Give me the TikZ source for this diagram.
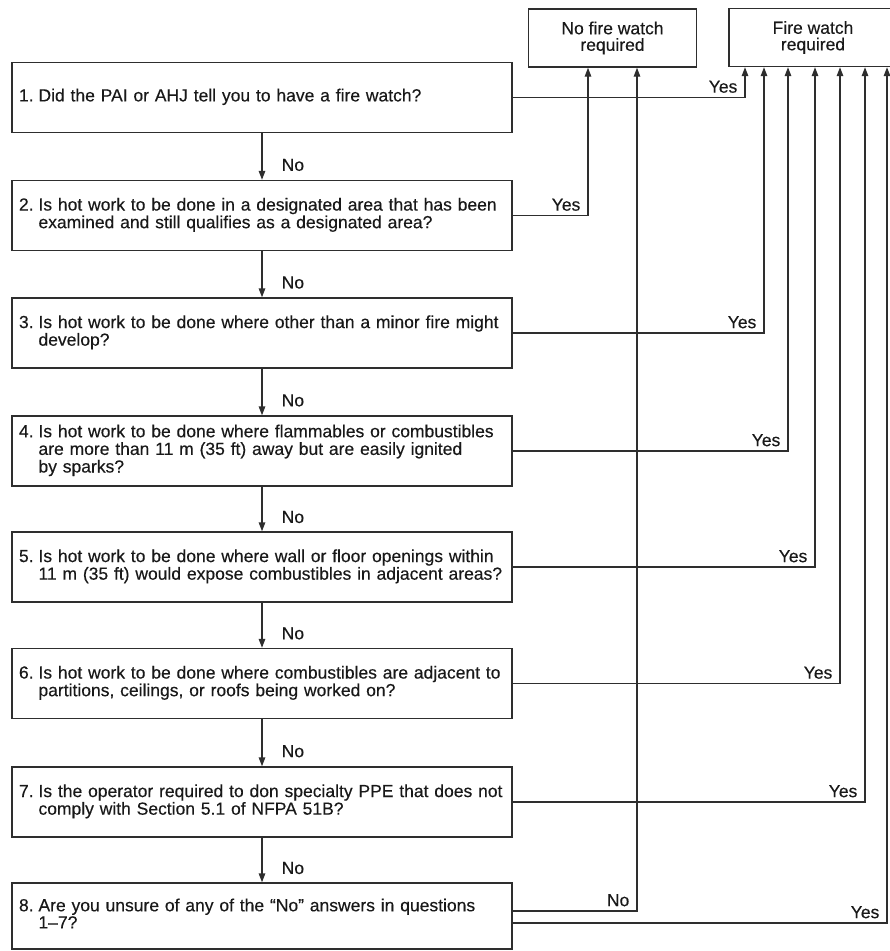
\documentclass[tikz,border=0pt]{standalone}
\usepackage{fontspec}
\setmainfont{Liberation Sans}[UprightFeatures={FakeBold=0.3}]
\usetikzlibrary{arrows.meta,calc}

\definecolor{linec}{gray}{0.18}
\definecolor{txtc}{gray}{0.1}
\newcommand\qfont{\fontsize{17.5}{16.5}\selectfont}
% question text: number, then lines with a hanging indent (use \\ & to break)
\newcommand\qrows[2]{\begin{tabular}{@{}l@{}l@{}}#1.\kern0.28em & #2\end{tabular}}

\begin{document}
\begin{tikzpicture}[x=1pt,y=-1pt,
  ln/.style={draw=linec, line width=1.4pt},
  arr/.style={ln, -{Triangle[width=6.5pt,length=9pt]}},
  qbox/.style={draw=linec, line width=1.4pt, rectangle, minimum width=500pt,
    minimum height=70pt, text width=486pt, inner xsep=7pt, inner ysep=0pt,
    align=left, font=\qfont, text=txtc},
  endbox/.style={draw=linec, line width=1.4pt, rectangle, minimum width=168pt,
    minimum height=58pt, inner sep=0pt, align=center, font=\qfont, text=txtc},
  lbl/.style={font=\qfont, text=txtc, inner sep=2pt},
  yeslbl/.style={lbl, pos=0.5, anchor=south east, xshift=-5pt, yshift=2pt},
  nolbl/.style={lbl, pos=0.68, anchor=west, xshift=17pt}
]
\useasboundingbox (0,0) rectangle (890,951);
\fill[white] (0,0) rectangle (890,951);
\clip (0,0) rectangle (890,951);

% outcomes
\node[endbox] (nofw) at (612.5,38) {No fire watch\\required};
\node[endbox] (fw) at (813,37.5) {Fire watch\\required};

% questions
\node[qbox] (q1) at (262,97.5) {\qrows{1}{Did the PAI or AHJ tell you to have a fire watch?}};
\node[qbox] (q2) at (262,215.5) {\qrows{2}{Is hot work to be done in a designated area that has been\\ & examined and still qualifies as a designated area?}};
\node[qbox] (q3) at (262,333) {\qrows{3}{Is hot work to be done where other than a minor fire might\\ & develop?}};
\node[qbox] (q4) at (262,451) {\qrows{4}{Is hot work to be done where flammables or combustibles\\ & are more than 11 m (35 ft) away but are easily ignited\\ & by sparks?}};
\node[qbox] (q5) at (262,567) {\qrows{5}{Is hot work to be done where wall or floor openings within\\ & 11 m (35 ft) would expose combustibles in adjacent areas?}};
\node[qbox] (q6) at (262,683.5) {\qrows{6}{Is hot work to be done where combustibles are adjacent to\\ & partitions, ceilings, or roofs being worked on?}};
\node[qbox] (q7) at (262,802) {\qrows{7}{Is the operator required to don specialty PPE that does not\\ & comply with Section 5.1 of NFPA 51B?}};
\node[qbox, minimum height=66pt] (q8) at (262,916) {\qrows{8}{Are you unsure of any of the \textquotedblleft No\textquotedblright\ answers in questions\\ & 1\textendash 7?}};

% columns where the answer lines rise into the outcome boxes
\coordinate (xa) at (588,0);
\coordinate (xb) at (637,0);
\coordinate (x1) at (745,0);
\coordinate (x3) at (764,0);
\coordinate (x4) at (788,0);
\coordinate (x5) at (815,0);
\coordinate (x6) at (840,0);
\coordinate (x7) at (865,0);
\coordinate (x8) at (887,0);

% "No" answers lead down to the next question
\draw[arr] (q1.south) -- node[nolbl]{No} (q2.north);
\draw[arr] (q2.south) -- node[nolbl]{No} (q3.north);
\draw[arr] (q3.south) -- node[nolbl]{No} (q4.north);
\draw[arr] (q4.south) -- node[nolbl]{No} (q5.north);
\draw[arr] (q5.south) -- node[nolbl]{No} (q6.north);
\draw[arr] (q6.south) -- node[nolbl]{No} (q7.north);
\draw[arr] (q7.south) -- node[nolbl]{No} (q8.north);

% answers leading to an outcome
\draw[arr] (q1.east) -| node[yeslbl]{Yes} (fw.south -| x1);
\draw[arr] (q2.east) -| node[yeslbl]{Yes} (nofw.south -| xa);
\draw[arr] (q3.east) -| node[yeslbl]{Yes} (fw.south -| x3);
\draw[arr] (q4.east) -| node[yeslbl]{Yes} (fw.south -| x4);
\draw[arr] (q5.east) -| node[yeslbl]{Yes} (fw.south -| x5);
\draw[arr] (q6.east) -| node[yeslbl]{Yes} (fw.south -| x6);
\draw[arr] (q7.east) -| node[yeslbl]{Yes} (fw.south -| x7);
\draw[arr] ([yshift=5pt]q8.east) -| node[yeslbl]{No} (nofw.south -| xb);
\draw[arr] ([yshift=-7pt]q8.east) -| node[yeslbl]{Yes} (fw.south -| x8);
\end{tikzpicture}
\end{document}
